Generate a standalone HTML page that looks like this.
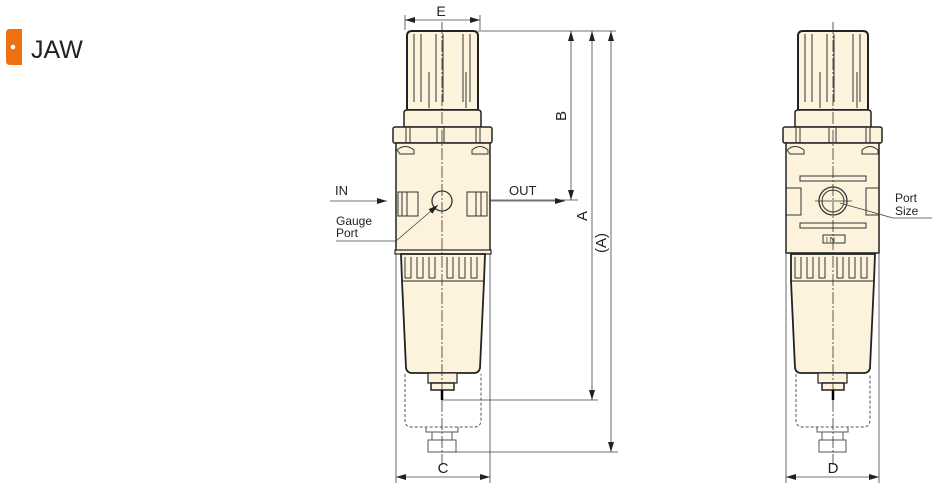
<!DOCTYPE html>
<html><head><meta charset="utf-8"><style>
html,body{margin:0;padding:0;background:#fff;width:947px;height:489px;overflow:hidden}
svg{display:block}
text{font-family:"Liberation Sans",sans-serif}
</style></head><body>
<svg width="947" height="489" viewBox="0 0 947 489" xmlns="http://www.w3.org/2000/svg">
<defs>
<marker id="ar" viewBox="0 0 10 6" refX="10" refY="3" markerWidth="10" markerHeight="6" orient="auto-start-reverse" markerUnits="userSpaceOnUse"><path d="M0,0 L10,3 L0,6z" fill="#222"/></marker>
</defs>
<!-- logo -->
<path d="M10,29 H22 V65 H10 Q6,65 6,61 V33 Q6,29 10,29z" fill="#ee7212"/>
<circle cx="13" cy="47" r="2.3" fill="#fff"/>
<text x="31" y="58" font-size="25" fill="#222">JAW</text>

<g stroke="#222" fill="#fdf3dc">
<!-- LEFT DRAWING -->
<path d="M407,110 V36 Q407,31 412,31 H473 Q478,31 478,36 V110z" stroke-width="2"/>
<path d="M404,127 V113 Q404,110 407,110 H478 Q481,110 481,113 V127z" stroke-width="1.5"/>
<rect x="393" y="127" width="99" height="16" rx="2" stroke-width="1.5"/>
<rect x="396" y="143" width="94" height="110" stroke-width="1.5"/>
<rect x="395" y="250" width="96" height="4" stroke-width="1.2"/>
<path d="M401,254 H485 L484,281 L480,368 Q479,373 474,373 H412 Q407,373 406,368 L402,281z" stroke-width="1.8"/>
<line x1="402" y1="281" x2="484" y2="281" stroke-width="1"/>
<rect x="428" y="373" width="29" height="10" stroke-width="1.2"/>
<rect x="431" y="383" width="23" height="7" stroke-width="1.5"/>
<!-- RIGHT DRAWING -->
<path d="M798,110 V36 Q798,31 803,31 H863 Q868,31 868,36 V110z" stroke-width="2"/>
<path d="M795,127 V113 Q795,110 798,110 H868 Q871,110 871,113 V127z" stroke-width="1.5"/>
<rect x="783" y="127" width="99" height="16" rx="2" stroke-width="1.5"/>
<rect x="786" y="143" width="93" height="110" stroke-width="1.5"/>
<path d="M791,254 H875 L874,281 L870,368 Q869,373 864,373 H801 Q796,373 795,368 L791,281z" stroke-width="1.8"/>
<line x1="791" y1="281" x2="874" y2="281" stroke-width="1"/>
<rect x="818" y="373" width="29" height="10" stroke-width="1.2"/>
<rect x="822" y="383" width="22" height="7" stroke-width="1.5"/>
</g>

<g stroke="#333" fill="none" stroke-width="1">
<!-- left knob lines -->
<path d="M414,34 V102 M421,34 V102 M436,34 V102 M443,34 V102 M463,34 V102 M470,34 V102 M429,72 V108 M466,72 V108"/>
<path d="M406,127 V143 M410,127 V143 M476,127 V143 M480,127 V143 M437,127 V143 M444,127 V143"/>
<path d="M397,150 Q405,143 414,150 V154 H400z M472,150 Q480,143 488,150 V154 H472z"/>
<path d="M398,192 V216 H418 V192z M402,192 V216 M407,192 V216 M467,192 V216 H487 V192z M476,192 V216 M481,192 V216"/>
<circle cx="442" cy="201" r="10" stroke-width="1.3"/>
<path d="M405,257 V278 H411 V257 M417,257 V278 H423 V257 M429,257 V278 H435 V257 M447,257 V278 H453 V257 M459,257 V278 H465 V257 M471,257 V278 H477 V257"/>
<path d="M405,374 V420 Q405,427 412,427 H474 Q481,427 481,420 V374" stroke-dasharray="3,2" stroke="#555"/>
<path d="M426,427 V432 H458 V427 M432,432 V440 M452,432 V440" stroke="#555"/>
<rect x="428" y="440" width="28" height="12" stroke="#555"/>
<!-- right knob lines -->
<path d="M805,34 V102 M812,34 V102 M827,34 V102 M834,34 V102 M853,34 V102 M860,34 V102 M820,72 V108 M857,72 V108"/>
<path d="M796,127 V143 M800,127 V143 M866,127 V143 M870,127 V143 M829,127 V143 M836,127 V143"/>
<path d="M787,150 Q795,143 804,150 V154 H790z M862,150 Q870,143 878,150 V154 H862z"/>
<rect x="800" y="176" width="66" height="5"/>
<rect x="800" y="223" width="66" height="5"/>
<path d="M786,188 H801 V215 H786 M879,188 H866 V215 H879"/>
<circle cx="833" cy="201" r="14" stroke-width="1.3"/>
<circle cx="833" cy="201" r="11"/>
<rect x="823" y="235" width="22" height="8"/>
<path d="M795,257 V278 H801 V257 M807,257 V278 H813 V257 M819,257 V278 H825 V257 M837,257 V278 H843 V257 M849,257 V278 H855 V257 M861,257 V278 H867 V257"/>
<path d="M796,374 V420 Q796,427 803,427 H863 Q870,427 870,420 V374" stroke-dasharray="3,2" stroke="#555"/>
<path d="M817,427 V432 H848 V427 M822,432 V440 M843,432 V440" stroke="#555"/>
<rect x="819" y="440" width="27" height="12" stroke="#555"/>
<!-- center lines -->
<path d="M442,22 V465" stroke-dasharray="12,2,2,2" stroke-width="0.8"/>
<path d="M833,22 V465" stroke-dasharray="12,2,2,2" stroke-width="0.8"/>
<path d="M815,201 H852" stroke-width="0.8"/>
<path d="M442,390 V400 M833,390 V400" stroke="#000" stroke-width="2.5"/>
</g>

<g stroke="#444" stroke-width="0.8" fill="none">
<!-- dims left -->
<path d="M405,15 V30 M480,15 V30"/>
<line x1="405" y1="20" x2="480" y2="20" marker-start="url(#ar)" marker-end="url(#ar)"/>
<path d="M478,31 H616 M490,200 H578 M443,400 H598 M455,452 H618"/>
<line x1="571" y1="31" x2="571" y2="200" marker-start="url(#ar)" marker-end="url(#ar)"/>
<line x1="592" y1="31" x2="592" y2="400" marker-start="url(#ar)" marker-end="url(#ar)"/>
<line x1="611" y1="31" x2="611" y2="452" marker-start="url(#ar)" marker-end="url(#ar)"/>
<line x1="330" y1="201" x2="387" y2="201" marker-end="url(#ar)"/>
<line x1="490" y1="201" x2="565" y2="201" marker-end="url(#ar)"/>
<path d="M336,241 H396"/>
<line x1="396" y1="241" x2="438" y2="205" marker-end="url(#ar)"/>
<path d="M396,254 V483 M490,254 V483"/>
<line x1="396" y1="477" x2="490" y2="477" marker-start="url(#ar)" marker-end="url(#ar)"/>
<!-- right -->
<path d="M840,203 L893,218 H932"/>
<path d="M786,254 V483 M879,254 V483"/>
<line x1="786" y1="477" x2="879" y2="477" marker-start="url(#ar)" marker-end="url(#ar)"/>
</g>

<g fill="#222" font-size="13">
<text x="441" y="16" text-anchor="middle" font-size="14">E</text>
<text x="335" y="195">IN</text>
<text x="509" y="195">OUT</text>
<text x="336" y="225" font-size="12">Gauge</text>
<text x="336" y="237" font-size="12">Port</text>
<text x="443" y="473" text-anchor="middle" font-size="15">C</text>
<text x="833" y="473" text-anchor="middle" font-size="15">D</text>
<text x="895" y="202" font-size="12">Port</text>
<text x="895" y="215" font-size="12">Size</text>
<text x="826" y="242" font-size="7">I N</text>
<text transform="translate(566,116) rotate(-90)" text-anchor="middle" font-size="15">B</text>
<text transform="translate(587,216) rotate(-90)" text-anchor="middle" font-size="15">A</text>
<text transform="translate(606,243) rotate(-90)" text-anchor="middle" font-size="15">(A)</text>
</g>
</svg>
</body></html>
